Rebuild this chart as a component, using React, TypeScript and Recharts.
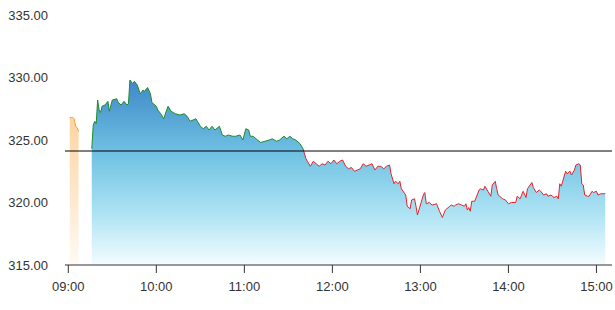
import {
  Area,
  ComposedChart,
  ReferenceLine,
  XAxis,
  YAxis,
} from 'recharts';

// pre-market trades
const preTimes = ['09:01', '09:02', '09:03', '09:04', '09:05', '09:06', '09:07'];
const prePrices = [326.8, 326.8, 326.8, 326.7, 326.1, 326.0, 325.7];

// regular session
const mainTimes = [
  '09:16', '09:17', '09:18', '09:19', '09:20', '09:21', '09:22', '09:23', '09:25', '09:27',
  '09:28', '09:30', '09:33', '09:34', '09:36', '09:38', '09:40', '09:41', '09:42', '09:44',
  '09:45', '09:47', '09:49', '09:51', '09:52', '09:54', '09:56', '09:57', '10:00', '10:01',
  '10:03', '10:05', '10:08', '10:10', '10:13', '10:16', '10:19', '10:21', '10:23', '10:25',
  '10:27', '10:28', '10:30', '10:32', '10:34', '10:36', '10:38', '10:40', '10:43', '10:45',
  '10:47', '10:49', '10:52', '10:54', '10:57', '10:59', '11:01', '11:03', '11:04', '11:06',
  '11:09', '11:11', '11:14', '11:17', '11:19', '11:22', '11:24', '11:27', '11:29', '11:31',
  '11:33', '11:35', '11:38', '11:40', '11:42', '11:43', '11:45', '11:47', '11:49', '11:51',
  '11:53', '11:55', '11:57', '11:59', '12:01', '12:03', '12:05', '12:07', '12:09', '12:11',
  '12:13', '12:15', '12:17', '12:19', '12:21', '12:23', '12:25', '12:27', '12:29', '12:31',
  '12:33', '12:35', '12:37', '12:39', '12:40', '12:42', '12:43', '12:45', '12:46', '12:47',
  '12:50', '12:51', '12:53', '12:54', '12:56', '12:57', '12:58', '13:00', '13:02', '13:03',
  '13:04', '13:06', '13:08', '13:11', '13:13', '13:15', '13:17', '13:20', '13:21', '13:23',
  '13:24', '13:26', '13:28', '13:30', '13:31', '13:32', '13:33', '13:34', '13:35', '13:37',
  '13:40', '13:41', '13:43', '13:44', '13:46', '13:48', '13:49', '13:51', '13:52', '13:53',
  '13:56', '13:58', '14:00', '14:02', '14:05', '14:06', '14:08', '14:10', '14:12', '14:13',
  '14:16', '14:17', '14:19', '14:21', '14:22', '14:24', '14:26', '14:27', '14:29', '14:31',
  '14:33', '14:34', '14:35', '14:36', '14:37', '14:39', '14:40', '14:42', '14:43', '14:45',
  '14:46', '14:48', '14:49', '14:50', '14:51', '14:52', '14:54', '14:55', '14:57', '14:58',
  '15:00', '15:01', '15:03', '15:06',
];
const mainPrices = [
  324.3, 326.2, 326.5, 326.3, 328.2, 327.4, 327.2, 327.7, 327.8, 328.1,
  327.3, 328.2, 328.3, 328.0, 327.8, 328.1, 327.8, 327.9, 329.8, 329.5,
  329.7, 329.4, 328.7, 329.0, 328.9, 329.2, 328.7, 328.0, 327.7, 327.4,
  327.1, 326.7, 327.7, 327.3, 327.1, 327.0, 327.1, 326.9, 326.5, 326.6,
  326.7, 326.5, 326.1, 325.9, 326.1, 325.8, 326.1, 325.8, 326.1, 325.4,
  325.3, 325.4, 325.3, 325.3, 325.4, 325.0, 325.9, 325.8, 325.3, 325.3,
  325.0, 324.8, 324.9, 325.0, 325.1, 324.9, 325.0, 325.3, 325.1, 325.3,
  325.1, 325.0, 324.7, 324.3, 323.5, 323.3, 322.9, 323.3, 323.1, 322.9,
  323.1, 323.0, 323.3, 323.1, 323.4, 323.1, 323.3, 323.4, 322.9, 322.7,
  322.8, 322.5, 322.6, 322.7, 323.1, 322.9, 323.0, 323.1, 322.6, 322.9,
  322.9, 322.7, 322.9, 323.0, 322.3, 321.5, 321.7, 321.5, 321.7, 321.1,
  320.6, 319.7, 319.5, 320.2, 320.3, 319.7, 319.0, 319.8, 320.6, 320.8,
  319.9, 320.0, 319.8, 319.9, 319.3, 318.8, 319.4, 319.7, 319.8, 319.7,
  319.8, 319.9, 319.8, 319.7, 319.9, 319.4, 319.6, 319.3, 320.1, 320.1,
  321.0, 321.1, 321.0, 321.3, 320.9, 320.5, 321.4, 321.7, 321.1, 320.6,
  320.3, 320.2, 319.9, 320.0, 320.0, 320.5, 320.3, 320.9, 320.4, 321.1,
  321.6, 321.2, 320.8, 321.0, 320.9, 320.6, 320.7, 320.5, 320.6, 320.4,
  320.5, 320.3, 321.5, 321.3, 321.7, 322.5, 322.3, 322.5, 322.2, 322.6,
  323.0, 323.1, 323.0, 321.5, 321.4, 320.6, 320.5, 320.5, 320.9, 320.8,
  320.9, 320.6, 320.7, 320.7,
];

const prevClose = 324.12;
const timeTicks = ['09:00', '10:00', '11:00', '12:00', '13:00', '14:00', '15:00'];
const priceTicks = [315, 320, 325, 330, 335];

const toMinutes = (hhmm: string) => {
  const [h, m] = hhmm.split(':').map(Number);
  return (h - 9) * 60 + m;
};
const toLabel = (min: number) => {
  const h = 9 + Math.floor(min / 60);
  const m = min % 60;
  return `${String(h).padStart(2, '0')}:${String(m).padStart(2, '0')}`;
};

const preData = preTimes.map((t, i) => ({ t: toMinutes(t), price: prePrices[i] }));
const mainData = mainTimes.map((t, i) => ({ t: toMinutes(t), price: mainPrices[i] }));

const maxPrice = Math.max(...mainPrices);
const minPrice = Math.min(...mainPrices);
const splitOffset = (maxPrice - prevClose) / (maxPrice - minPrice);

const tickStyle = { fill: '#333', fontSize: 13, fontFamily: 'Liberation Sans, Arial, sans-serif' };

export default function App() {
  return (
    <div style={{ position: 'absolute', left: 0, top: 0 }}>
      <ComposedChart
        width={615}
        height={310}
        margin={{ top: 15, right: 3, bottom: 0, left: 0 }}
      >
        <defs>
          <linearGradient id="mainFill" x1="0" y1="0" x2="0" y2="1">
            <stop offset="0%" stopColor="#3f88c8" />
            <stop offset="40%" stopColor="#70c2e3" />
            <stop offset="72%" stopColor="#ade3f3" />
            <stop offset="100%" stopColor="#f4fcff" />
          </linearGradient>
          <linearGradient id="mainStroke" x1="0" y1="0" x2="0" y2="1">
            <stop offset={splitOffset} stopColor="#1e8a2a" />
            <stop offset={splitOffset} stopColor="#e3232b" />
          </linearGradient>
          <linearGradient id="preFill" x1="0" y1="0" x2="0" y2="1">
            <stop offset="0%" stopColor="#fdd3a0" />
            <stop offset="100%" stopColor="#fffaf4" />
          </linearGradient>
        </defs>
        <XAxis
          type="number"
          dataKey="t"
          domain={[-2.25, 370.6]}
          ticks={timeTicks.map(toMinutes)}
          tickFormatter={toLabel}
          tick={tickStyle}
          stroke="#333"
          tickSize={8}
          tickMargin={9}
          height={45}
          allowDataOverflow
        />
        <YAxis
          type="number"
          domain={[315, 335]}
          ticks={priceTicks}
          tickFormatter={(v: number) => v.toFixed(2)}
          tick={tickStyle}
          axisLine={false}
          tickLine={false}
          tickSize={0}
          tickMargin={17}
          width={65}
          allowDataOverflow
        />
        <Area
          data={preData}
          dataKey="price"
          type="linear"
          stroke="#f5a42c"
          strokeWidth={1}
          fill="url(#preFill)"
          fillOpacity={1}
          dot={false}
          activeDot={false}
          isAnimationActive={false}
        />
        <Area
          data={mainData}
          dataKey="price"
          type="linear"
          stroke="url(#mainStroke)"
          strokeWidth={1}
          fill="url(#mainFill)"
          fillOpacity={1}
          dot={false}
          activeDot={false}
          isAnimationActive={false}
        />
        <ReferenceLine y={prevClose} stroke="#000" strokeWidth={1} />
      </ComposedChart>
    </div>
  );
}
